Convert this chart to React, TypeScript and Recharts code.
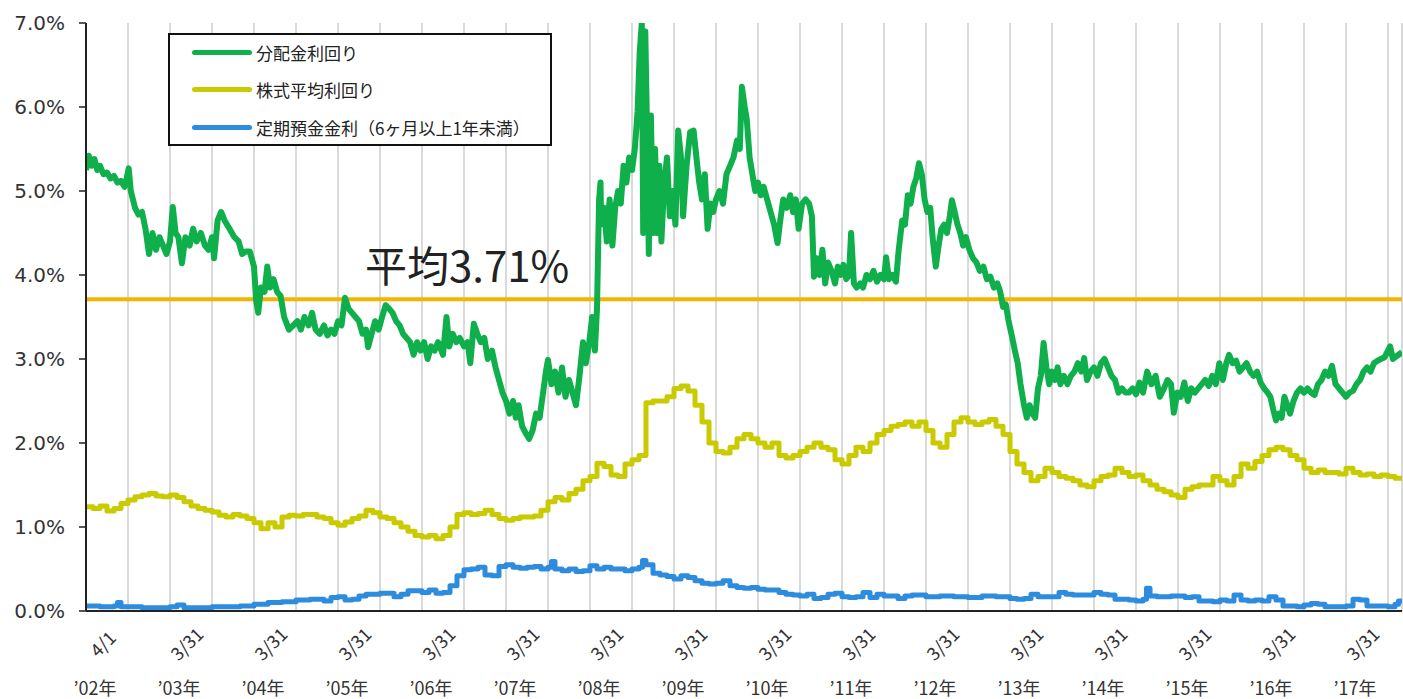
import React from 'react';
import { LineChart, Line, XAxis, YAxis, CartesianGrid, ReferenceLine, Legend } from 'recharts';

// x = months since 2002-04-01, value = %
const greenPts: number[][] = [
  [0,5.25],[0.4,5.42],[0.8,5.3],[1.2,5.38],[1.6,5.25],[2,5.3],[2.5,5.2],[3,5.22],[3.5,5.15],[4,5.18],[4.5,5.1],[5,5.12],[5.5,5.05],[5.8,5.15],[6.1,5.27],[6.4,5.0],
  [7,4.8],[7.5,4.72],[8,4.75],[8.5,4.55],[9,4.25],[9.5,4.5],[10,4.3],[10.5,4.45],[11,4.35],[11.5,4.25],[12,4.4],[12.4,4.81],[12.8,4.5],[13.2,4.45],[13.7,4.14],
  [14.2,4.45],[14.8,4.35],[15.3,4.55],[15.8,4.4],[16.4,4.5],[17,4.35],[17.5,4.3],[18,4.45],[18.3,4.2],[18.8,4.65],[19.3,4.75],[19.8,4.65],[20.5,4.55],[21.2,4.45],
  [21.8,4.4],[22.3,4.25],[22.8,4.28],[23.4,4.28],[24,4.1],[24.3,3.7],[24.6,3.55],[25,3.85],[25.5,3.8],[25.9,4.1],[26.3,3.85],[26.8,3.95],[27.3,3.8],[27.8,3.75],
  [28.3,3.5],[29,3.35],[29.6,3.4],[30.2,3.45],[30.7,3.35],[31.2,3.5],[31.8,3.4],[32.3,3.55],[32.8,3.35],[33.4,3.3],[34,3.4],[34.5,3.28],[35,3.35],[35.5,3.3],
  [36,3.45],[36.5,3.4],[37,3.73],[37.5,3.6],[38,3.55],[38.5,3.5],[39,3.45],[39.5,3.3],[40,3.35],[40.3,3.14],[40.8,3.3],[41.3,3.45],[41.8,3.35],[42.3,3.5],[42.8,3.64],
  [43.3,3.6],[43.8,3.55],[44.3,3.45],[44.8,3.4],[45.3,3.3],[45.8,3.25],[46.3,3.2],[46.8,3.05],[47.3,3.2],[47.8,3.1],[48.3,3.2],[48.8,3.0],[49.3,3.15],[49.8,3.1],
  [50.3,3.2],[51,3.05],[51.5,3.5],[51.9,3.15],[52.4,3.3],[52.9,3.2],[53.4,3.25],[54,3.15],[54.5,3.2],[54.9,2.95],[55.4,3.42],[55.9,3.3],[56.4,3.2],[56.9,3.25],
  [57.4,3.0],[58,3.1],[58.5,2.9],[59,2.75],[59.5,2.6],[60,2.5],[60.5,2.35],[61,2.5],[61.4,2.3],[61.8,2.45],[62.3,2.2],[62.8,2.12],[63.3,2.05],[63.8,2.15],
  [64.3,2.35],[64.8,2.3],[65.3,2.6],[65.7,2.85],[66,2.99],[66.5,2.7],[67,2.85],[67.5,2.6],[68,2.9],[68.5,2.55],[69,2.75],[69.5,2.6],[70,2.45],[70.5,2.8],
  [71,3.2],[71.4,2.95],[71.9,3.2],[72.3,3.5],[72.7,3.1],[73,3.6],[73.3,4.9],[73.5,5.1],[73.6,4.6],[74,4.8],[74.4,4.4],[74.8,4.9],[75.2,4.35],[75.6,4.8],[76,5.0],
  [76.4,4.85],[76.8,5.3],[77.2,5.1],[77.6,5.4],[78,5.25],[78.4,5.5],[78.8,5.95],[79.1,6.65],[79.4,7.0],[79.6,4.5],[79.9,6.9],[80.2,5.5],[80.4,4.25],[80.7,5.9],
  [81,4.5],[81.3,5.5],[81.6,4.5],[81.9,5.3],[82.2,4.4],[82.6,5.1],[83,5.4],[83.4,4.7],[83.8,5.0],[84.2,4.6],[84.6,5.72],[85,5.4],[85.3,4.7],[85.8,5.3],[86.3,5.7],
  [86.8,5.72],[87.2,5.4],[87.6,5.1],[88,4.9],[88.4,5.2],[88.8,4.55],[89.2,4.85],[89.6,4.75],[90,4.9],[90.5,5.0],[91,4.85],[91.5,5.2],[92,5.3],[92.5,5.4],
  [93,5.6],[93.4,5.5],[93.7,6.24],[94.1,6.0],[94.4,5.85],[94.8,5.4],[95.2,5.2],[95.6,5.0],[96,5.1],[96.4,4.95],[96.8,5.05],[97.3,4.9],[97.8,4.75],[98.3,4.6],
  [98.8,4.38],[99.1,4.6],[99.6,4.9],[100.1,4.8],[100.6,4.95],[101,4.75],[101.4,4.9],[101.8,4.55],[102.3,4.85],[102.8,4.9],[103.3,4.85],[103.7,4.7],[104,3.98],
  [104.4,4.2],[104.8,4.0],[105.2,4.3],[105.6,3.9],[106,4.15],[106.5,4.05],[107,3.9],[107.4,4.1],[107.8,4.0],[108.2,4.12],[108.6,3.95],[109,4.0],[109.3,4.5],
  [109.7,3.9],[110.1,3.85],[110.6,3.9],[111,3.85],[111.5,4.0],[112,3.95],[112.5,4.05],[113,3.92],[113.5,4.0],[114,3.95],[114.3,4.21],[114.7,3.95],[115.2,4.0],
  [115.7,3.92],[116.1,4.3],[116.6,4.65],[117,4.6],[117.4,4.95],[117.8,4.85],[118.2,5.05],[118.6,5.15],[119,5.33],[119.4,5.2],[119.8,4.9],[120.2,4.75],[120.6,4.8],
  [121,4.4],[121.4,4.1],[121.8,4.35],[122.2,4.55],[122.6,4.6],[123,4.5],[123.4,4.7],[123.7,4.89],[124.1,4.75],[124.5,4.6],[124.9,4.5],[125.3,4.35],[125.7,4.45],
  [126.2,4.3],[126.7,4.2],[127.2,4.15],[127.7,4.05],[128.2,4.1],[128.7,3.95],[129.2,3.98],[129.7,3.85],[130.2,3.9],[130.6,3.8],[131,3.62],[131.4,3.65],[131.8,3.45],
  [132.2,3.3],[132.7,3.1],[133.1,2.95],[133.5,2.7],[134,2.45],[134.4,2.3],[134.8,2.45],[135.2,2.35],[135.6,2.3],[136,2.65],[136.4,2.8],[136.8,3.19],[137.2,2.9],
  [137.6,2.7],[138,2.85],[138.4,2.75],[138.8,2.9],[139.2,2.7],[139.7,2.8],[140.2,2.7],[140.7,2.8],[141.2,2.85],[141.7,2.95],[142.2,2.85],[142.6,3.01],[143,2.75],
  [143.5,2.85],[144,2.9],[144.5,2.8],[145,2.95],[145.5,3.0],[146,2.9],[146.5,2.8],[147,2.75],[147.5,2.6],[148,2.65],[148.5,2.6],[149,2.6],[149.5,2.65],[150,2.58],
  [150.5,2.72],[151,2.6],[151.6,2.85],[152.2,2.7],[152.8,2.8],[153.4,2.55],[154,2.65],[154.5,2.75],[155,2.7],[155.4,2.36],[155.9,2.6],[156.4,2.55],[156.9,2.72],
  [157.4,2.5],[157.9,2.65],[158.4,2.6],[158.9,2.65],[159.4,2.7],[159.9,2.75],[160.4,2.68],[160.9,2.8],[161.4,2.7],[161.9,2.95],[162.4,2.75],[162.9,2.95],[163.3,3.05],
  [163.8,2.95],[164.3,2.98],[164.8,2.85],[165.3,2.9],[165.8,2.95],[166.3,2.85],[166.8,2.8],[167.3,2.85],[167.8,2.72],[168.3,2.65],[168.8,2.6],[169.2,2.55],[169.6,2.4],
  [170,2.27],[170.4,2.35],[170.8,2.3],[171.2,2.55],[171.6,2.45],[172,2.35],[172.5,2.5],[173,2.6],[173.5,2.65],[174,2.6],[174.5,2.65],[175,2.6],[175.5,2.57],[176,2.7],
  [176.5,2.75],[177,2.85],[177.5,2.8],[178,2.92],[178.5,2.7],[179,2.65],[179.5,2.6],[180,2.55],[180.5,2.6],[181,2.62],[181.5,2.7],[182,2.75],[182.5,2.85],[183,2.9],
  [183.5,2.85],[184,2.95],[184.5,2.98],[185,3.0],[185.5,3.02],[186,3.1],[186.3,3.15],[186.7,3.0],[187,3.02],[187.5,3.05],[188,3.08],
];

const yellowPts: number[][] = [
  [0,1.24],[1,1.22],[2,1.25],[3,1.19],[4,1.22],[5,1.28],[6,1.32],[7,1.36],[8,1.38],[9,1.4],[10,1.37],[11,1.36],[12,1.38],[13,1.35],[14,1.3],[15,1.25],
  [16,1.22],[17,1.2],[18,1.18],[19,1.14],[20,1.12],[21,1.15],[22,1.13],[23,1.1],[24,1.05],[25,0.98],[26,1.05],[27,1.0],[28,1.12],[29,1.14],[30,1.13],[31,1.15],
  [32,1.15],[33,1.12],[34,1.1],[35,1.05],[36,1.02],[37,1.06],[38,1.1],[39,1.13],[40,1.2],[41,1.17],[42,1.12],[43,1.1],[44,1.05],[45,1.0],[46,0.95],[47,0.9],
  [48,0.88],[49,0.9],[50,0.86],[51,0.9],[52,1.0],[53,1.15],[54,1.17],[55,1.15],[56,1.16],[57,1.2],[58,1.15],[59,1.1],[60,1.08],[61,1.1],[62,1.12],[63,1.12],
  [64,1.13],[65,1.2],[66,1.3],[67,1.35],[68,1.32],[69,1.4],[70,1.45],[71,1.55],[72,1.6],[73,1.76],[74,1.72],[75,1.62],[76,1.6],[77,1.75],[78,1.8],[79,1.85],
  [80,2.48],[81,2.5],[82,2.5],[83,2.55],[84,2.65],[85,2.68],[86,2.62],[87,2.45],[88,2.25],[89,2.0],[90,1.9],[91,1.88],[92,1.95],[93,2.05],[94,2.1],[95,2.05],
  [96,2.0],[97,1.95],[98,2.0],[99,1.85],[100,1.82],[101,1.85],[102,1.9],[103,1.95],[104,2.0],[105,1.95],[106,1.92],[107,1.8],[108,1.75],[109,1.85],[110,1.95],
  [111,1.9],[112,2.0],[113,2.1],[114,2.15],[115,2.2],[116,2.22],[117,2.25],[118,2.2],[119,2.25],[120,2.15],[121,2.0],[122,1.95],[123,2.1],[124,2.25],[125,2.3],
  [126,2.25],[127,2.22],[128,2.25],[129,2.28],[130,2.2],[131,2.1],[132,1.9],[133,1.75],[134,1.65],[135,1.55],[136,1.6],[137,1.7],[138,1.65],[139,1.6],[140,1.58],
  [141,1.55],[142,1.5],[143,1.48],[144,1.55],[145,1.6],[146,1.62],[147,1.7],[148,1.65],[149,1.6],[150,1.62],[151,1.55],[152,1.5],[153,1.45],[154,1.42],[155,1.38],
  [156,1.35],[157,1.45],[158,1.48],[159,1.5],[160,1.5],[161,1.6],[162,1.55],[163,1.5],[164,1.6],[165,1.75],[166,1.7],[167,1.78],[168,1.85],[169,1.92],[170,1.95],
  [171,1.92],[172,1.85],[173,1.8],[174,1.7],[175,1.65],[176,1.68],[177,1.65],[178,1.65],[179,1.63],[180,1.7],[181,1.65],[182,1.62],[183,1.63],[184,1.6],[185,1.62],
  [186,1.6],[187,1.58],[188,1.57],
];

const bluePts: number[][] = [
  [0,0.06],[2,0.05],[4,0.06],[4.5,0.1],[5,0.05],[8,0.04],[12,0.05],[13,0.07],[14,0.04],[18,0.05],[22,0.06],[24,0.08],[26,0.1],[28,0.11],[30,0.13],[32,0.14],
  [34,0.12],[35,0.16],[36,0.17],[37,0.13],[38,0.14],[39,0.18],[40,0.2],[42,0.21],[44,0.17],[45,0.2],[46,0.24],[48,0.22],[49,0.25],[50,0.21],[51,0.22],[52,0.3],
  [53,0.42],[54,0.49],[55,0.5],[56,0.52],[57,0.43],[58,0.42],[59,0.53],[60,0.55],[61,0.52],[62,0.51],[63,0.52],[64,0.53],[65,0.5],[66,0.52],[66.5,0.59],[67,0.5],
  [68,0.48],[69,0.5],[70,0.47],[71,0.48],[72,0.54],[73,0.5],[74,0.52],[75,0.5],[76,0.5],[77,0.48],[78,0.5],[79,0.52],[79.5,0.6],[80,0.55],[81,0.45],[82,0.43],
  [83,0.41],[84,0.38],[85,0.42],[86,0.4],[87,0.36],[88,0.33],[89,0.32],[90,0.33],[91,0.36],[92,0.3],[93,0.28],[94,0.27],[95,0.28],[96,0.26],[97,0.25],[98,0.25],
  [99,0.22],[100,0.2],[101,0.19],[102,0.18],[103,0.2],[104,0.15],[105,0.16],[106,0.2],[107,0.21],[108,0.17],[109,0.16],[110,0.17],[111,0.22],[112,0.16],[113,0.2],
  [114,0.18],[116,0.15],[117,0.18],[118,0.19],[120,0.17],[122,0.18],[124,0.17],[126,0.16],[128,0.18],[130,0.17],[132,0.15],[133,0.14],[134,0.15],[135,0.2],
  [136,0.17],[138,0.17],[139,0.22],[140,0.2],[141,0.19],[143,0.19],[144,0.22],[145,0.2],[146,0.19],[147,0.14],[149,0.13],[150,0.12],[151,0.14],[151.5,0.27],
  [152,0.18],[153,0.17],[155,0.18],[157,0.16],[158,0.17],[159,0.12],[161,0.11],[162,0.13],[163,0.12],[164,0.19],[165,0.13],[166,0.12],[167,0.13],[168,0.12],
  [169,0.17],[170,0.13],[171,0.06],[173,0.05],[174,0.07],[175,0.09],[176,0.08],[177,0.05],[179,0.05],[180,0.06],[181,0.14],[182,0.13],[183,0.06],[186,0.05],
  [187,0.08],[187.5,0.12],[188,0.13],
];

const AVERAGE = 3.71;
const yTicks = [0, 1, 2, 3, 4, 5, 6, 7];
const xTicks = [0,6,12,18,24,30,36,42,48,54,60,66,72,78,84,90,96,102,108,114,120,126,132,138,144,150,156,162,168,174,180,186];
const dateLabels = ['4/1','3/31','3/31','3/31','3/31','3/31','3/31','3/31','3/31','3/31','3/31','3/31','3/31','3/31','3/31','3/31'];
const yearLabels = ['’02年','’03年','’04年','’05年','’06年','’07年','’08年','’09年','’10年','’11年','’12年','’13年','’14年','’15年','’16年','’17年'];

const series = [
  { name: '分配金利回り', color: '#0FAF4B' },
  { name: '株式平均利回り', color: '#CACA00' },
  { name: '定期預金金利（6ヶ月以上1年未満）', color: '#2E8CDE' },
];

const toObj = (pts: number[][]) => pts.map(([m, v]) => ({ m, v }));
const greenData = toObj(greenPts);
const yellowData = toObj(yellowPts);
const blueData = toObj(bluePts);

const FONT = '"Noto Sans CJK JP", "Noto Sans", sans-serif';

const XTick = (props: any) => {
  const { x, y, payload } = props;
  const m = payload.value as number;
  if (m % 12 !== 0) return null;
  const i = m / 12;
  const cx = x + 16;
  const cy = y + 32;
  return (
    <g>
      <text x={cx} y={cy} textAnchor="middle" dominantBaseline="central" fontSize={18} fill="#333"
        fontFamily={FONT} transform={`rotate(-45 ${cx} ${cy})`}>{dateLabels[i]}</text>
      <text x={x + 9} y={y + 76} textAnchor="middle" dominantBaseline="central" fontSize={18} fill="#333"
        fontFamily={FONT}>{yearLabels[i]}</text>
    </g>
  );
};

const LegendBox = () => (
  <div style={{ width: 384, height: 113, boxSizing: 'border-box', border: '2px solid #111', background: '#fff', position: 'relative' }}>
    {series.map((s, i) => (
      <div key={s.name} style={{ position: 'absolute', left: 22, top: 17 + i * 37.5 - 11, height: 22, display: 'flex', alignItems: 'center' }}>
        <div style={{ width: 60, height: 5, borderRadius: 3, background: s.color }} />
        <span style={{ marginLeft: 4, fontSize: 17, fontFamily: FONT, color: '#222', whiteSpace: 'nowrap' }}>{s.name}</span>
      </div>
    ))}
  </div>
);

const AvgLabel = (props: any) => {
  const vb = props.viewBox || {};
  return (
    <text x={(vb.x ?? 86) + 279} y={(vb.y ?? 299) - 17} fontSize={42} fill="#222" fontFamily={FONT}>平均3.71%</text>
  );
};

export default function App() {
  return (
    <div style={{ position: 'absolute', left: 0, top: 0, background: '#fff' }}>
      <LineChart width={1403} height={699} margin={{ top: 23, right: 1, left: 0, bottom: 8 }}>
        <CartesianGrid horizontal={false} vertical stroke="#dadada" strokeWidth={2} />
        <XAxis type="number" dataKey="m" domain={[0, 188]} ticks={xTicks} allowDataOverflow
          height={80} tickLine={false} tickSize={0} tickMargin={0} tick={<XTick />} interval={0}
          axisLine={{ stroke: '#222', strokeWidth: 2 }} />
        <YAxis type="number" domain={[0, 7]} ticks={yTicks} allowDataOverflow width={86}
          tickFormatter={(v: number) => v.toFixed(1) + '%'} tickSize={7} tickMargin={14}
          tickLine={{ stroke: '#222', strokeWidth: 1.5 }} axisLine={{ stroke: '#222', strokeWidth: 2 }}
          tick={{ fontSize: 20, fill: '#333', fontFamily: '"DejaVu Sans", sans-serif' }} />
        <ReferenceLine y={AVERAGE} stroke="#F5B400" strokeWidth={4} label={<AvgLabel />} />
        <Line data={blueData} dataKey="v" type="stepAfter" stroke={series[2].color} strokeWidth={5} dot={false} isAnimationActive={false} strokeLinejoin="round" />
        <Line data={yellowData} dataKey="v" type="stepAfter" stroke={series[1].color} strokeWidth={5} dot={false} isAnimationActive={false} strokeLinejoin="round" />
        <Line data={greenData} dataKey="v" type="linear" stroke={series[0].color} strokeWidth={6} dot={false} isAnimationActive={false} strokeLinejoin="round" />
        <Legend layout="vertical" align="center" verticalAlign="middle" content={<LegendBox />}
          wrapperStyle={{ position: 'absolute', left: 168, top: 33, width: 384, height: 113 }} />
      </LineChart>
    </div>
  );
}
